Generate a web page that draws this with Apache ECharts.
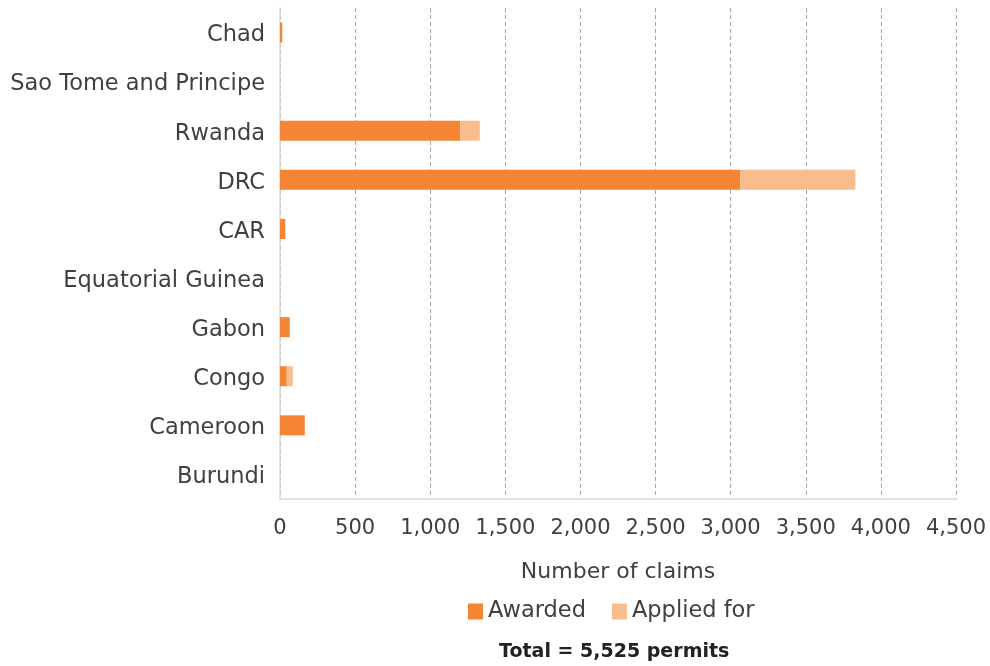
<!DOCTYPE html>
<html>
<head>
<meta charset="utf-8">
<script src="https://cdn.jsdelivr.net/npm/echarts@6/dist/echarts.min.js"></script>
<style>html,body{margin:0;padding:0;background:#fff}#c{width:990px;height:666px}</style>
</head>
<body>
<div id="c"></div>
<script>
const countries = ["Burundi","Cameroon","Congo","Gabon","Equatorial Guinea","CAR","DRC","Rwanda","Sao Tome and Principe","Chad"];
const awarded =   [0, 165, 45, 65, 0, 35, 3065, 1200, 0, 15];
const appliedFor = [0, 0, 40, 0, 0, 0, 765, 130, 0, 0];
const xTicks = [0, 500, 1000, 1500, 2000, 2500, 3000, 3500, 4000, 4500];
const totalText = "Total = 5,525 permits";

const font = "'DejaVu Sans', sans-serif";
const txt = '#404040';
const chart = echarts.init(document.getElementById('c'));
chart.setOption({
  animation: false,
  textStyle: {fontFamily: font},
  grid: {left: 280, right: 34, top: 8, bottom: 167, containLabel: false},
  legend: {
    top: 595, left: 463, itemWidth: 15, itemHeight: 16, itemGap: 26, itemTextGap: 8, icon: 'rect',
    textStyle: {fontSize: 22.5, color: txt, fontFamily: font},
    data: ['Awarded', 'Applied for']
  },
  title: {
    text: totalText, left: 494, top: 638,
    textStyle: {fontSize: 19, fontWeight: 'bold', color: '#222', fontFamily: font}
  },
  xAxis: {
    type: 'value', min: xTicks[0], max: xTicks[xTicks.length-1], interval: 500,
    name: 'Number of claims', nameLocation: 'middle', nameGap: 62,
    nameTextStyle: {fontSize: 22, color: txt, fontFamily: font},
    axisLine: {show: true, lineStyle: {color: '#d9d9d9', width: 1.5}},
    axisTick: {show: false},
    axisLabel: {fontSize: 21, color: txt, margin: 19,
      formatter: v => v.toLocaleString('en-US')},
    splitLine: {show: true, lineStyle: {color: '#a6a6a6', type: [4, 3], width: 1}}
  },
  yAxis: {
    type: 'category', data: countries,
    axisLine: {show: true, lineStyle: {color: '#d9d9d9', width: 1.5}},
    axisTick: {show: false},
    axisLabel: {margin: 15, formatter: v => '{a|' + v + '}',
      rich: {a: {fontSize: 22.5, color: txt, fontFamily: font, padding: [6, 0, 0, 0]}}}
  },
  series: [
    {name: 'Awarded', type: 'bar', stack: 'a', data: awarded, barWidth: 20,
     itemStyle: {color: '#F58535'}},
    {name: 'Applied for', type: 'bar', stack: 'a', data: appliedFor, barWidth: 20,
     itemStyle: {color: '#F9BC8D'}}
  ]
});
</script>
</body>
</html>
